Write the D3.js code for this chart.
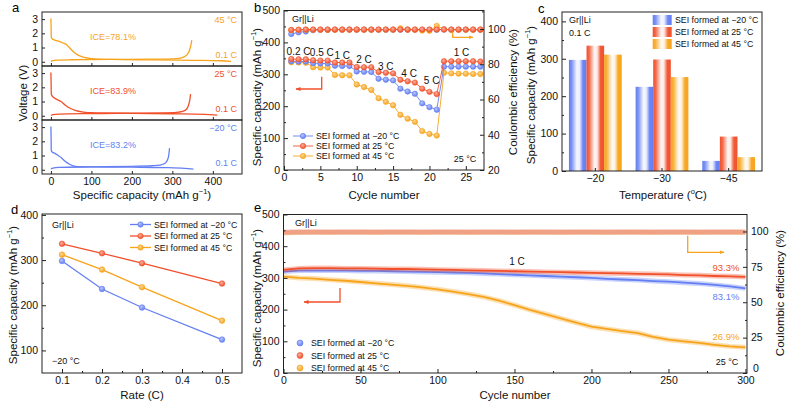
<!DOCTYPE html>
<html><head><meta charset="utf-8">
<script src="https://cdn.jsdelivr.net/npm/d3@7"></script>
<style>body{margin:0;background:#fff}svg{display:block}</style>
</head><body><script>
// ---------------- DATA ----------------
const seriesNames = ["SEI formed at \u221220 \u00B0C", "SEI formed at 25 \u00B0C", "SEI formed at 45 \u00B0C"];
// panel a : [capacity, voltage]
const aDis45 = [[0,3.05],[0.5,2.4],[1,1.7],[3,1.62],[10,1.52],[20,1.43],[30,1.32],[38,1.22],[45,1.02],[55,0.72],[65,0.5],[80,0.32],[100,0.22],[150,0.16],[250,0.13],[350,0.1],[420,0.07],[445,0.02]];
const aChg45 = [[0,0.02],[5,0.08],[15,0.12],[50,0.14],[150,0.16],[250,0.18],[300,0.2],[320,0.26],[330,0.36],[338,0.56],[343,0.86],[346,1.2],[348,1.52]];
const aDis25 = [[0,3.05],[0.5,2.3],[1,1.5],[3,1.4],[10,1.22],[18,1.1],[25,1.0],[35,0.76],[45,0.56],[60,0.38],[80,0.26],[100,0.21],[200,0.17],[300,0.14],[380,0.1],[411,0.04]];
const aChg25 = [[0,0.02],[5,0.08],[20,0.12],[100,0.15],[200,0.18],[280,0.2],[310,0.23],[325,0.3],[335,0.46],[340,0.76],[343,1.1],[345,1.52]];
const aDisM20 = [[0,3.05],[0.5,2.2],[1,1.35],[3,1.25],[10,1.15],[18,1.0],[25,0.86],[35,0.6],[45,0.4],[55,0.28],[65,0.22],[100,0.2],[200,0.18],[280,0.15],[330,0.1],[352,0.05]];
const aChgM20 = [[0,0.05],[5,0.12],[20,0.16],[100,0.2],[200,0.24],[250,0.28],[270,0.33],[282,0.45],[288,0.7],[291,1.0],[293,1.52]];
const aTemps = ["45 \u00B0C", "25 \u00B0C", "\u221220 \u00B0C"];
const aICE = ["ICE=78.1%", "ICE=83.9%", "ICE=83.2%"];
const aTicksX = [0,100,200,300,400];
const aTicksY = [0,1,2,3];

// panel b
const cyclesB = [1,2,3,4,5,6,7,8,9,10,11,12,13,14,15,16,17,18,19,20,21,22,23,24,25,26,27];
const capB_m20 = [341,340,340,335,334,334,327,326,326,309,308,307,286,283,281,255,246,239,209,197,189,324,324,324,324,324,324];
const capB_25  = [348,347,347,344,343,343,337,337,337,323,322,322,307,305,303,283,278,274,255,245,238,341,341,341,341,341,340];
const capB_45  = [338,337,336,322,321,321,298,297,297,268,260,251,225,214,203,173,161,151,122,113,108,305,303,302,302,301,301];
const ceB_m20 = [97.2,98.1,98.6,99.3,99.5,99.5,99.6,99.6,99.6,99.6,99.6,99.6,99.6,99.6,99.6,99.6,99.6,99.6,99.5,99.5,99.6,99.7,99.6,99.6,99.6,99.6,99.6];
const ceB_25  = [99.5,99.6,99.7,99.7,99.7,99.7,99.7,99.7,99.7,99.7,99.7,99.7,99.7,99.7,99.7,99.7,99.7,99.7,99.7,99.7,99.7,99.7,99.7,99.7,99.7,99.7,99.7];
const ceB_45  = [99.4,99.5,99.6,99.6,99.6,99.6,99.6,99.6,99.6,99.6,99.6,99.6,99.6,99.6,99.6,100.4,99.6,99.6,99.1,99.0,101.8,99.8,99.6,99.6,99.6,99.6,99.6];
const rateLabelsB = [["0.2 C",2.0,370],["0.5 C",5.2,367],["1 C",8,360],["2 C",11,345],["3 C",14,326],["4 C",17.2,304],["5 C",20.3,282],["1 C",24.4,367]];

// panel c
const tempCats = ["\u221220", "\u221230", "\u221245"];
const capC_m20 = [297,225,27];
const capC_25  = [335,298,92];
const capC_45  = [311,251,37];

// panel d
const rates = [0.1,0.2,0.3,0.5];
const capD_m20 = [298,236,195,124];
const capD_25  = [336,315,293,248];
const capD_45  = [312,279,240,166];

// panel e
const cyclesE = [0,10,20,30,40,50,60,70,80,90,100,110,120,130,140,150,160,170,180,190,200,210,220,230,240,250,260,270,280,290,300];
const capE_m20 = [320,323,323,323,323,322,322,321,320,319,318,317,316,314,312,310,308,306,304,302,300,297,295,293,290,288,285,282,278,273,267];
const capE_25  = [325,330,331,331,330,330,329,328,328,327,326,325,324,323,322,321,320,319,318,317,316,315,314,313,312,311,309,308,306,305,303];
const capE_45  = [304,300,298,294,291,287,283,279,275,270,264,257,249,240,228,214,199,186,172,159,146,139,132,126,114,105,100,95,89,84,81];
const ceE_m20 = [99.2,99.5,99.5,99.4,99.5,99.5,99.5,99.4,99.5,99.5,99.5,99.4,99.5,99.5,99.5,99.4,99.5,99.5,99.5,99.4,99.5,99.5,99.5,99.4,99.5,99.5,99.5,99.4,99.5,99.5,99.5];
const ceE_25  = [99.4,99.7,99.7,99.6,99.7,99.7,99.7,99.6,99.7,99.7,99.7,99.6,99.7,99.7,99.7,99.6,99.7,99.7,99.7,99.6,99.7,99.7,99.7,99.6,99.7,99.7,99.7,99.6,99.7,99.7,99.7];
const ceE_45  = [99.0,99.3,99.4,99.3,99.4,99.4,99.3,99.4,99.4,99.3,99.4,99.4,99.3,99.4,99.4,99.3,99.4,99.4,99.3,99.4,99.4,99.3,99.4,99.4,99.3,99.4,99.4,99.3,99.4,99.4,99.3];
const retE = ["83.1%", "93.3%", "26.9%"];

// ---------------- SETUP ----------------
const FONT = "Arial, 'Liberation Sans', Helvetica, sans-serif";
const BLUE = "#647ff3", RED = "#f1502b", ORANGE = "#f7a41c";
const COLORS = [BLUE, RED, ORANGE];
const TICK = 10.5;
const svg = d3.select("body").append("svg").attr("width",800).attr("height",405)
  .style("font-family", FONT);
const defs = svg.append("defs");
COLORS.forEach((c,i)=>{
  const rg = defs.append("radialGradient").attr("id","rg"+i).attr("cx","40%").attr("cy","35%").attr("r","65%");
  rg.append("stop").attr("offset","0%").attr("stop-color", d3.interpolateRgb(c,"#fff")(0.55));
  rg.append("stop").attr("offset","100%").attr("stop-color", c);
  const lg = defs.append("linearGradient").attr("id","lg"+i).attr("x1","0%").attr("x2","100%").attr("y1","0").attr("y2","0");
  [[0,1],[0.15,0.85],[0.45,0.06],[0.6,0.12],[0.8,0.95],[1,1]].forEach(([o,a])=>{
    lg.append("stop").attr("offset",(o*100)+"%").attr("stop-color", d3.interpolateRgb("#fff", c)(a));
  });
  defs.append("marker").attr("id","ah"+i).attr("viewBox","0 0 10 10").attr("refX",9).attr("refY",5)
    .attr("markerWidth",5).attr("markerHeight",5).attr("markerUnits","userSpaceOnUse").attr("orient","auto")
    .append("path").attr("d","M0,1 L10,5 L0,9 z").attr("fill",c);
});

function txt(x,y,s,o={}){
  return svg.append("text").attr("x",x).attr("y",y).text(s)
    .attr("font-size",o.size||9).attr("fill",o.fill||"#111")
    .attr("text-anchor",o.anchor||"start").attr("dominant-baseline","central");
}
function frame(x0,y0,x1,y1){
  svg.append("rect").attr("x",x0).attr("y",y0).attr("width",x1-x0).attr("height",y1-y0)
    .attr("fill","none").attr("stroke","#222").attr("stroke-width",1);
}
function axis(fn, scale, vals, pos, size, labels, fmt){
  const a = fn(scale).tickValues(vals).tickSizeInner(-size).tickSizeOuter(0).tickPadding(4)
    .tickFormat(labels ? (fmt || (d=>d)) : ()=>"");
  const g = svg.append("g").attr("transform", pos).call(a);
  g.select(".domain").remove();
  g.selectAll("line").attr("stroke","#222");
  g.selectAll("text").attr("font-size",TICK).attr("fill","#111").attr("font-family",FONT);
  return g;
}
function capTitle(x,y,rot){
  const t = svg.append("text").attr("transform",`translate(${x},${y}) rotate(${rot})`)
    .attr("text-anchor","middle").attr("dominant-baseline","central").attr("font-size",11.5).attr("fill","#111");
  t.append("tspan").text("Specific capacity (mAh g");
  t.append("tspan").attr("dy",-4).attr("font-size",7.5).text("\u22121");
  t.append("tspan").attr("dy",4).text(")");
  return t;
}
function vTitle(x,y,s){
  return svg.append("text").attr("transform",`translate(${x},${y}) rotate(-90)`)
    .attr("text-anchor","middle").attr("dominant-baseline","central").attr("font-size",11.5).attr("fill","#111").text(s);
}
function marker(g, x, y, i, r){
  g.append("circle").attr("cx",x).attr("cy",y).attr("r",r||2.7).attr("fill",`url(#rg${i})`)
    .attr("stroke",COLORS[i]).attr("stroke-width",0.6);
}
function arrow(pts, i){
  svg.append("path").attr("d", d3.line()(pts)).attr("fill","none").attr("stroke",COLORS[i])
    .attr("stroke-width",1.3).attr("marker-end",`url(#ah${i})`);
}
// panel letters
[["a",12,7],["b",254,7],["c",538,8],["d",11,209],["e",254,207]].forEach(([s,x,y])=>txt(x,y,s,{size:13,fill:"#000"}));

// ---------------- PANEL A ----------------
{
  const xA = d3.scaleLinear().domain([-22,472]).range([42,242]);
  const tops = [12,66,120];
  const curves = [[aDis45,aChg45,2],[aDis25,aChg25,1],[aDisM20,aChgM20,0]];
  tops.forEach((top,k)=>{
    const y = d3.scaleLinear().domain([-0.3,3.5]).range([top+54, top]);
    const [dis,chg,ci] = curves[k];
    const ln = d3.line().x(d=>xA(d[0])).y(d=>y(d[1])).curve(d3.curveMonotoneX);
    svg.append("path").attr("d",ln(dis)).attr("fill","none").attr("stroke",COLORS[ci]).attr("stroke-width",1.3);
    svg.append("path").attr("d",ln(chg)).attr("fill","none").attr("stroke",COLORS[ci]).attr("stroke-width",1.3);
    frame(42, top, 242, top+54);
    axis(d3.axisLeft, y, aTicksY, `translate(42,0)`, 3, true);
    axis(d3.axisBottom, xA, aTicksX, `translate(0,${top+54})`, 3, k===2);
    txt(237, top+8, aTemps[k], {fill:COLORS[ci], anchor:"end"});
    txt(113, top+25, aICE[k], {fill:COLORS[ci], anchor:"middle"});
    txt(237, top+42.5, "0.1 C", {fill:COLORS[ci], anchor:"end"});
  });
  vTitle(23, 93, "Voltage (V)");
  const t = svg.append("text").attr("x",142).attr("y",195).attr("text-anchor","middle").attr("dominant-baseline","central").attr("font-size",11.5).attr("fill","#111");
  t.append("tspan").text("Specific capacity (mAh g");
  t.append("tspan").attr("dy",-4).attr("font-size",7.5).text("\u22121");
  t.append("tspan").attr("dy",4).text(")");
}

// ---------------- PANEL B ----------------
{
  const xB = d3.scaleLinear().domain([0,27.5]).range([284,484]);
  const yB = d3.scaleLinear().domain([0,500]).range([170,10.5]);
  const yB2 = d3.scaleLinear().domain([20,110.5]).range([170,10.5]);
  const caps = [capB_m20, capB_25, capB_45];
  const ces = [ceB_m20, ceB_25, ceB_45];
  const g = svg.append("g");
  [2,0,1].forEach(i=>{
    const pts = cyclesB.map((c,j)=>[xB(c), yB(caps[i][j])]);
    g.append("path").attr("d",d3.line()(pts)).attr("fill","none").attr("stroke",COLORS[i]).attr("stroke-width",0.9);
    pts.forEach(p=>marker(g,p[0],p[1],i));
  });
  [0,2,1].forEach(i=>{
    const pts = cyclesB.map((c,j)=>[xB(c), yB2(ces[i][j])]);
    g.append("path").attr("d",d3.line()(pts)).attr("fill","none").attr("stroke",COLORS[i]).attr("stroke-width",0.9);
    pts.forEach(p=>marker(g,p[0],p[1],i));
  });
  frame(284,10.5,484,170);
  axis(d3.axisBottom, xB, [0,5,10,15,20,25], `translate(0,170)`, 4, true);
  axis(d3.axisBottom, xB, [2.5,7.5,12.5,17.5,22.5], `translate(0,170)`, 2, false);
  axis(d3.axisLeft, yB, [0,100,200,300,400,500], `translate(284,0)`, 4, true);
  axis(d3.axisLeft, yB, [50,150,250,350,450], `translate(284,0)`, 2, false);
  axis(d3.axisRight, yB2, [20,40,60,80,100], `translate(484,0)`, 4, true);
  axis(d3.axisRight, yB2, [30,50,70,90,110], `translate(484,0)`, 2, false);
  rateLabelsB.forEach(([s,c,v])=>txt(xB(c), yB(v), s, {size:10, anchor:"middle"}));
  txt(292, 19, "Gr||Li", {size:9});
  txt(465, 159, "25 \u00B0C", {size:9, anchor:"middle"});
  arrow([[321.7,76.7],[321.7,89],[296,89]], 1);
  arrow([[452.7,31.7],[452.7,37.3],[473,37.3]], 2);
  [0,1,2].forEach(i=>{
    const y = 136 + i*10;
    svg.append("line").attr("x1",293).attr("x2",313).attr("y1",y).attr("y2",y).attr("stroke",COLORS[i]).attr("stroke-width",0.9);
    marker(svg,303,y,i);
    txt(316, y, seriesNames[i], {size:8.8});
  });
  capTitle(257, 97, -90);
  vTitle(513, 92, "Coulombic efficiency (%)");
  txt(384, 195, "Cycle number", {size:11.5, anchor:"middle"});
}

// ---------------- PANEL C ----------------
{
  const xC = d3.scaleBand().domain(tempCats).range([562,762]);
  const yC = d3.scaleLinear().domain([0,425]).range([171,12]);
  const caps = [capC_m20, capC_25, capC_45];
  const bw = 17.6;
  [0,1,2].forEach(i=>{
    svg.append("g").selectAll("rect").data(tempCats).join("rect")
      .attr("x", (d)=>xC(d)+xC.bandwidth()/2 + (i-1)*bw - bw/2)
      .attr("width", bw)
      .attr("y", (d,j)=>yC(caps[i][j]))
      .attr("height", (d,j)=>yC(0)-yC(caps[i][j]))
      .attr("fill", `url(#lg${i})`);
  });
  frame(562,12,762,171);
  axis(d3.axisBottom, xC, tempCats, `translate(0,171)`, 3, true);
  axis(d3.axisLeft, yC, [0,100,200,300,400], `translate(562,0)`, 4, true);
  axis(d3.axisLeft, yC, [50,150,250,350], `translate(562,0)`, 2, false);
  txt(569, 20, "Gr||Li", {size:9});
  txt(569, 32.5, "0.1 C", {size:9});
  [0,1,2].forEach(i=>{
    const y = 20 + i*12;
    svg.append("rect").attr("x",652.7).attr("y",y-5).attr("width",19).attr("height",10).attr("fill",`url(#lg${i})`);
    txt(675, y, seriesNames[i], {size:8.8});
  });
  capTitle(531, 95, -90);
  const t = svg.append("text").attr("x",663).attr("y",195).attr("text-anchor","middle").attr("dominant-baseline","central").attr("font-size",11.5).attr("fill","#111");
  t.append("tspan").text("Temperature (");
  t.append("tspan").attr("dy",-4).attr("font-size",7.5).text("o");
  t.append("tspan").attr("dy",4).text("C)");
}

// ---------------- PANEL D ----------------
{
  const xD = d3.scaleLinear().domain([0.05,0.55]).range([42,242]);
  const yD = d3.scaleLinear().domain([50,402]).range([373,214]);
  const caps = [capD_m20, capD_25, capD_45];
  [0,1,2].forEach(i=>{
    const pts = rates.map((r,j)=>[xD(r), yD(caps[i][j])]);
    svg.append("path").attr("d",d3.line()(pts)).attr("fill","none").attr("stroke",COLORS[i]).attr("stroke-width",1.3);
    pts.forEach(p=>marker(svg,p[0],p[1],i,2.8));
  });
  frame(42,214,242,373);
  axis(d3.axisBottom, xD, [0.1,0.2,0.3,0.4,0.5], `translate(0,373)`, 4, true);
  axis(d3.axisBottom, xD, [0.15,0.25,0.35,0.45], `translate(0,373)`, 2, false);
  axis(d3.axisLeft, yD, [100,200,300,400], `translate(42,0)`, 4, true);
  axis(d3.axisLeft, yD, [150,250,350], `translate(42,0)`, 2, false);
  txt(52, 225, "Gr||Li", {size:9});
  txt(52, 361, "\u221220 \u00B0C", {size:9});
  [0,1,2].forEach(i=>{
    const y = 224.5 + i*11.5;
    svg.append("line").attr("x1",130).attr("x2",151).attr("y1",y).attr("y2",y).attr("stroke",COLORS[i]).attr("stroke-width",1.3);
    marker(svg,140.5,y,i);
    txt(154, y, seriesNames[i], {size:8.8});
  });
  capTitle(13, 295, -90);
  txt(142, 395, "Rate (C)", {size:11.5, anchor:"middle"});
}

// ---------------- PANEL E ----------------
{
  const xE = d3.scaleLinear().domain([0,301]).range([283.5,747]);
  const yE = d3.scaleLinear().domain([0,500]).range([373,214.5]);
  const yE2 = d3.scaleLinear().domain([0,112]).range([373,214.5]);
  const caps = [capE_m20, capE_25, capE_45];
  const ces = [ceE_m20, ceE_25, ceE_45];
  const ceOp = [0.12, 0.4, 0.3];
  [0,2,1].forEach(i=>{
    const ln = d3.line().x((d,j)=>xE(cyclesE[j])).y(d=>yE2(d));
    svg.append("path").attr("d",ln(ces[i])).attr("fill","none").attr("stroke",COLORS[i]).attr("stroke-width",5).attr("stroke-opacity",ceOp[i]);
  });
  svg.append("path").attr("d",d3.line().x((d,j)=>xE(cyclesE[j])).y(d=>yE2(d))(ceE_25)).attr("fill","none").attr("stroke","#f2a08e").attr("stroke-width",1);
  [2,0,1].forEach(i=>{
    const ln = d3.line().x((d,j)=>xE(cyclesE[j])).y(d=>yE(d));
    svg.append("path").attr("d",ln(caps[i])).attr("fill","none").attr("stroke",COLORS[i]).attr("stroke-width",5).attr("stroke-opacity",0.35);
    svg.append("path").attr("d",ln(caps[i])).attr("fill","none").attr("stroke",COLORS[i]).attr("stroke-width",1.8);
  });
  frame(283.5,214.5,747,373);
  axis(d3.axisBottom, xE, [0,50,100,150,200,250,300], `translate(0,373)`, 4, true);
  axis(d3.axisBottom, xE, [25,75,125,175,225,275], `translate(0,373)`, 2, false);
  axis(d3.axisLeft, yE, [0,100,200,300,400,500], `translate(283.5,0)`, 4, true);
  axis(d3.axisLeft, yE, [50,150,250,350,450], `translate(283.5,0)`, 2, false);
  const gr = axis(d3.axisRight, yE2, [0,25,50,75,100], `translate(747,0)`, 4, true);
  gr.selectAll("text").filter(d=>d===0).attr("dy","-0.15em").attr("x",6);
  axis(d3.axisRight, yE2, [12.5,37.5,62.5,87.5], `translate(747,0)`, 2, false);
  txt(295, 223, "Gr||Li", {size:9});
  txt(517, 261, "1 C", {size:10, anchor:"middle"});
  txt(726, 267, retE[1], {size:9.5, anchor:"middle", fill:RED});
  txt(726, 296, retE[0], {size:9.5, anchor:"middle", fill:BLUE});
  txt(726, 336, retE[2], {size:9.5, anchor:"middle", fill:ORANGE});
  txt(727, 362, "25 \u00B0C", {size:9, anchor:"middle"});
  arrow([[340,288],[340,302],[304,302]], 1);
  arrow([[687.7,235.7],[687.7,252.3],[724,252.3]], 2);
  [0,1,2].forEach(i=>{
    const y = 343 + i*12.5;
    marker(svg,300,y,i,3);
    txt(311, y, seriesNames[i], {size:8.8});
  });
  capTitle(257, 298, -90);
  vTitle(780, 293, "Coulombic efficiency (%)");
  txt(515, 395, "Cycle number", {size:11.5, anchor:"middle"});
}
</script></body></html>
